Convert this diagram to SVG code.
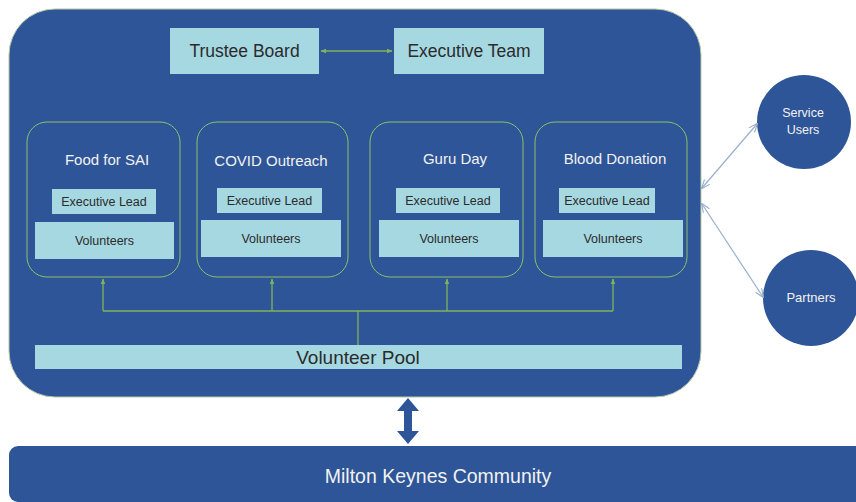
<svg xmlns="http://www.w3.org/2000/svg" width="856" height="502" viewBox="0 0 856 502">
<defs>
<style>
.bg{fill:#2E5597}
.lb{fill:#A6D8E2}
.prog{fill:none;stroke:#8DBF6A;stroke-width:1}
.t{font-family:"Century Gothic","Liberation Sans","DejaVu Sans",sans-serif;text-anchor:middle}
.dk{fill:#2B2B2B}
.wt{fill:#F2F2F2}
.gl{stroke:#7FB35A;stroke-width:1.3;fill:none}
.sl{stroke:#9AAFCB;stroke-width:1.2;fill:none}
</style>
<marker id="ga" viewBox="0 0 10 10" refX="9" refY="5" markerWidth="6" markerHeight="6" orient="auto-start-reverse" markerUnits="userSpaceOnUse">
<path d="M0,1 L10,5 L0,9 z" fill="#7FB35A"/>
</marker>
<marker id="sa" viewBox="0 0 10 10" refX="9" refY="5" markerWidth="9" markerHeight="9" orient="auto-start-reverse" markerUnits="userSpaceOnUse">
<path d="M0,1 L10,5 L0,9" fill="none" stroke="#9AAFCB" stroke-width="1.3"/>
</marker>
</defs>
<rect width="856" height="502" fill="#FFFFFF"/>

<g id="organisation">
<rect x="9" y="9" width="692" height="388" rx="46" ry="46" class="bg" stroke="#B9C7A9" stroke-width="1"/>
</g>

<g id="trustee-board">
<rect x="170" y="28" width="149" height="46" class="lb"/>
<text x="244.5" y="57" class="t dk" font-size="17.5">Trustee Board</text>
</g>
<g id="executive-team">
<rect x="394" y="28" width="150" height="46" class="lb"/>
<text x="469" y="57" class="t dk" font-size="17.5">Executive Team</text>
</g>

<g id="food-for-sai">
<rect x="27" y="122" width="153" height="155" rx="20" ry="20" class="prog"/>
<text x="107" y="165" class="t wt" font-size="15">Food for SAI</text>
<rect x="52" y="189" width="104" height="25" class="lb"/>
<text x="104" y="206" class="t dk" font-size="12.5">Executive Lead</text>
<rect x="35" y="222" width="139" height="37" class="lb"/>
<text x="104.5" y="245" class="t dk" font-size="12.5">Volunteers</text>
</g>

<g id="covid-outreach">
<rect x="197" y="122" width="151" height="155" rx="20" ry="20" class="prog"/>
<text x="271" y="166" class="t wt" font-size="15">COVID Outreach</text>
<rect x="217" y="188" width="105" height="25" class="lb"/>
<text x="269.5" y="205" class="t dk" font-size="12.5">Executive Lead</text>
<rect x="201" y="220" width="140" height="37" class="lb"/>
<text x="271" y="243" class="t dk" font-size="12.5">Volunteers</text>
</g>

<g id="guru-day">
<rect x="370" y="122" width="153" height="155" rx="20" ry="20" class="prog"/>
<text x="455" y="164" class="t wt" font-size="15">Guru Day</text>
<rect x="396" y="188" width="104" height="25" class="lb"/>
<text x="448" y="205" class="t dk" font-size="12.5">Executive Lead</text>
<rect x="379" y="220" width="140" height="37" class="lb"/>
<text x="449" y="243" class="t dk" font-size="12.5">Volunteers</text>
</g>

<g id="blood-donation">
<rect x="535" y="122" width="152" height="155" rx="20" ry="20" class="prog"/>
<text x="615" y="164" class="t wt" font-size="15">Blood Donation</text>
<rect x="559" y="188" width="96" height="25" class="lb"/>
<text x="607" y="205" class="t dk" font-size="12.5">Executive Lead</text>
<rect x="543" y="220" width="140" height="37" class="lb"/>
<text x="613" y="243" class="t dk" font-size="12.5">Volunteers</text>
</g>

<g id="volunteer-pool">
<rect x="35" y="345" width="647" height="24" class="lb"/>
<text x="358" y="364" class="t dk" font-size="19">Volunteer Pool</text>
</g>

<g id="milton-keynes-community">
<rect x="9" y="446" width="870" height="56" rx="9" ry="9" class="bg"/>
<text x="438" y="483" class="t wt" font-size="19.5">Milton Keynes Community</text>
</g>

<g id="service-users">
<circle cx="804" cy="122" r="47" class="bg"/>
<text x="803" y="117" class="t wt" font-size="12.5">Service</text>
<text x="803" y="134" class="t wt" font-size="12.5">Users</text>
</g>
<g id="partners">
<circle cx="811" cy="298" r="48" class="bg"/>
<text x="811" y="302" class="t wt" font-size="13">Partners</text>
</g>

<g id="connectors">
<line x1="321" y1="51" x2="392" y2="51" class="gl" marker-start="url(#ga)" marker-end="url(#ga)"/>
<path d="M358,345 V311 M103,311 H613" class="gl"/>
<line x1="103" y1="311" x2="103" y2="279" class="gl" marker-end="url(#ga)"/>
<line x1="272" y1="311" x2="272" y2="279" class="gl" marker-end="url(#ga)"/>
<line x1="447" y1="311" x2="447" y2="279" class="gl" marker-end="url(#ga)"/>
<line x1="613" y1="311" x2="613" y2="279" class="gl" marker-end="url(#ga)"/>
<path d="M408,398 L419,411 L412,411 L412,431 L419,431 L408,444 L397,431 L404,431 L404,411 L397,411 Z" class="bg"/>
<line x1="702" y1="188" x2="757" y2="124" class="sl" marker-start="url(#sa)" marker-end="url(#sa)"/>
<line x1="702" y1="204" x2="763" y2="297" class="sl" marker-start="url(#sa)" marker-end="url(#sa)"/>
</g>
</svg>
